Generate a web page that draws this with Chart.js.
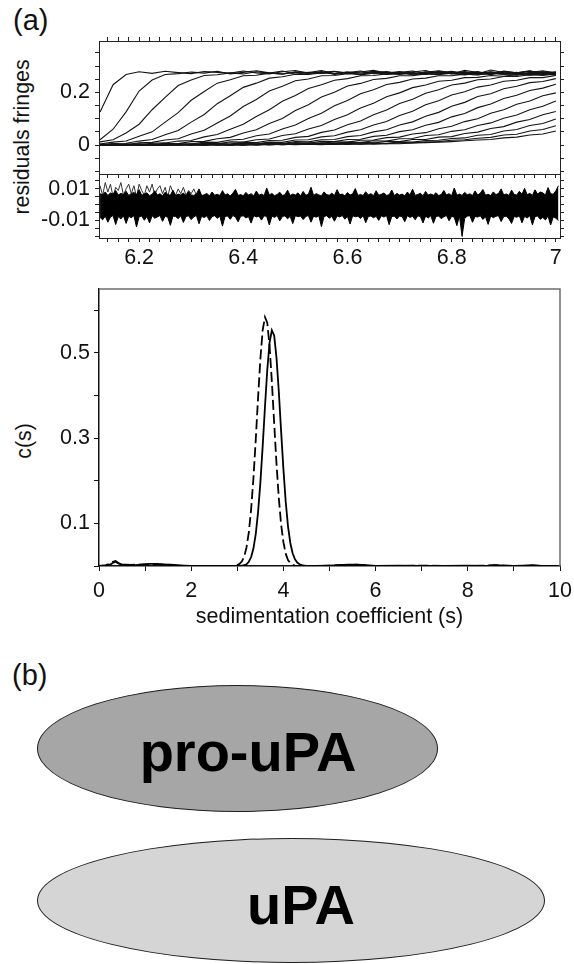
<!DOCTYPE html>
<html>
<head>
<meta charset="utf-8">
<script src="https://cdn.jsdelivr.net/npm/chart.js@4.4.1/dist/chart.umd.min.js"></script>
<style>
  body { margin: 0; background: #fff; width: 574px; height: 964px; position: relative; overflow: hidden;
         font-family: "Liberation Sans", Arial, sans-serif; color: #111; }
  canvas { position: absolute; left: 0; }
  .txt { position: absolute; white-space: nowrap; line-height: 1; }
  .rot { position: absolute; white-space: nowrap; line-height: 1; font-size: 21.3px;
         transform: translate(-50%, -50%) rotate(-90deg); }
  .ell { position: absolute; border: 1.5px solid #1e1e1e; border-radius: 50%; box-sizing: border-box; }
  .big { position: absolute; white-space: nowrap; line-height: 1; font-weight: bold; font-size: 56px;
         transform: translateX(-50%); color: #000; }
</style>
</head>
<body>
<div class="txt" style="left:13px; top:6px; font-size:29px;">(a)</div>
<div class="rot" style="left:23px; top:137px;">residuals fringes</div>
<div class="rot" style="left:25px; top:441px;">c(s)</div>

<canvas id="fringes" width="574" height="180" style="top:0px"></canvas>
<canvas id="resid" width="574" height="100" style="top:170px"></canvas>
<canvas id="cs" width="574" height="350" style="top:280px"></canvas>

<div class="txt" style="left:12px; top:661px; font-size:29px;">(b)</div>
<div class="ell" style="left:37px; top:685px; width:401px; height:127px; background:#a6a6a6;"></div>
<div class="big" style="left:248px; top:724px;">pro-uPA</div>
<div class="ell" style="left:37px; top:838px; width:508px; height:125px; background:#d5d5d5;"></div>
<div class="big" style="left:301px; top:877px;">uPA</div>

<script>
// ---- fringe scans (radius in cm, fringes) ----
const fringeX = [6.125, 6.15, 6.175, 6.2, 6.225, 6.25, 6.275, 6.3, 6.325, 6.35, 6.375, 6.4, 6.425, 6.45, 6.475, 6.5, 6.525, 6.55, 6.575, 6.6, 6.625, 6.65, 6.675, 6.7, 6.725, 6.75, 6.775, 6.8, 6.825, 6.85, 6.875, 6.9, 6.925, 6.95, 6.975, 7.0];

const scan01 = [0.125, 0.229, 0.268, 0.278, 0.272, 0.280, 0.275, 0.271, 0.279, 0.276, 0.273, 0.281, 0.274, 0.270, 0.278, 0.283, 0.272, 0.276, 0.280, 0.271, 0.277, 0.284, 0.273, 0.279, 0.270, 0.276, 0.282, 0.274, 0.279, 0.271, 0.285, 0.275, 0.272, 0.280, 0.277, 0.274];
const scan02 = [0.020, 0.060, 0.126, 0.205, 0.247, 0.268, 0.271, 0.277, 0.273, 0.280, 0.270, 0.276, 0.282, 0.274, 0.269, 0.278, 0.275, 0.283, 0.271, 0.277, 0.273, 0.280, 0.268, 0.276, 0.281, 0.272, 0.278, 0.270, 0.284, 0.275, 0.271, 0.279, 0.274, 0.282, 0.270, 0.277];
const scan03 = [0.012, 0.020, 0.046, 0.079, 0.134, 0.181, 0.226, 0.247, 0.264, 0.267, 0.274, 0.270, 0.278, 0.273, 0.281, 0.269, 0.276, 0.272, 0.279, 0.274, 0.268, 0.280, 0.275, 0.271, 0.277, 0.283, 0.270, 0.276, 0.273, 0.279, 0.268, 0.281, 0.274, 0.270, 0.278, 0.275];
const scan04 = [0.004, 0.011, 0.015, 0.033, 0.050, 0.087, 0.123, 0.170, 0.203, 0.235, 0.248, 0.263, 0.265, 0.273, 0.270, 0.276, 0.272, 0.279, 0.268, 0.275, 0.281, 0.271, 0.277, 0.273, 0.269, 0.278, 0.274, 0.280, 0.270, 0.276, 0.272, 0.279, 0.267, 0.275, 0.282, 0.273];
const scan05 = [0.002, 0.006, 0.007, 0.015, 0.021, 0.039, 0.055, 0.087, 0.116, 0.157, 0.187, 0.219, 0.235, 0.254, 0.259, 0.269, 0.268, 0.274, 0.271, 0.277, 0.266, 0.273, 0.279, 0.270, 0.275, 0.268, 0.280, 0.272, 0.276, 0.269, 0.278, 0.271, 0.274, 0.281, 0.267, 0.275];
const scan06 = [-0.002, 0.004, 0.002, 0.008, 0.010, 0.019, 0.024, 0.042, 0.056, 0.084, 0.110, 0.146, 0.173, 0.205, 0.223, 0.244, 0.251, 0.263, 0.264, 0.271, 0.269, 0.275, 0.270, 0.277, 0.266, 0.273, 0.268, 0.279, 0.271, 0.275, 0.267, 0.278, 0.272, 0.269, 0.276, 0.270];
const scan07 = [0.003, -0.001, 0.004, 0.002, 0.007, 0.008, 0.015, 0.017, 0.031, 0.040, 0.060, 0.079, 0.108, 0.134, 0.166, 0.188, 0.215, 0.229, 0.246, 0.252, 0.263, 0.264, 0.270, 0.268, 0.274, 0.269, 0.276, 0.271, 0.266, 0.273, 0.277, 0.270, 0.268, 0.275, 0.271, 0.278];
const scan08 = [-0.001, 0.003, 0.000, 0.004, 0.002, 0.007, 0.006, 0.013, 0.014, 0.024, 0.029, 0.046, 0.058, 0.082, 0.101, 0.131, 0.153, 0.182, 0.200, 0.224, 0.234, 0.249, 0.253, 0.263, 0.263, 0.270, 0.267, 0.273, 0.269, 0.266, 0.274, 0.270, 0.276, 0.268, 0.272, 0.267];
const scan09 = [0.002, -0.002, 0.003, 0.000, 0.004, 0.001, 0.006, 0.004, 0.011, 0.010, 0.019, 0.022, 0.035, 0.042, 0.061, 0.076, 0.101, 0.121, 0.149, 0.169, 0.195, 0.210, 0.230, 0.238, 0.251, 0.254, 0.263, 0.263, 0.269, 0.267, 0.272, 0.268, 0.265, 0.273, 0.270, 0.266];
const scan10 = [0.003, 0.000, 0.002, -0.001, 0.003, 0.001, 0.005, 0.002, 0.007, 0.005, 0.012, 0.011, 0.020, 0.023, 0.036, 0.043, 0.061, 0.074, 0.097, 0.115, 0.141, 0.159, 0.183, 0.198, 0.218, 0.228, 0.242, 0.246, 0.256, 0.257, 0.264, 0.261, 0.268, 0.265, 0.270, 0.266];
const scan11 = [-0.001, 0.002, 0.001, 0.003, -0.001, 0.003, 0.000, 0.004, 0.002, 0.007, 0.004, 0.010, 0.009, 0.017, 0.018, 0.029, 0.033, 0.048, 0.057, 0.077, 0.091, 0.115, 0.133, 0.158, 0.174, 0.197, 0.210, 0.228, 0.235, 0.248, 0.251, 0.260, 0.260, 0.267, 0.264, 0.270];
const scan12 = [0.002, -0.001, 0.003, 0.001, -0.001, 0.003, 0.000, 0.004, 0.001, 0.005, 0.003, 0.007, 0.005, 0.011, 0.010, 0.019, 0.020, 0.031, 0.035, 0.049, 0.058, 0.076, 0.089, 0.112, 0.128, 0.153, 0.168, 0.190, 0.202, 0.220, 0.228, 0.242, 0.246, 0.256, 0.256, 0.264];
const scan13 = [0.001, 0.003, -0.001, 0.002, 0.000, 0.003, -0.001, 0.003, 0.000, 0.004, 0.002, 0.006, 0.003, 0.008, 0.006, 0.013, 0.012, 0.020, 0.021, 0.032, 0.036, 0.050, 0.058, 0.076, 0.088, 0.109, 0.124, 0.147, 0.162, 0.184, 0.195, 0.214, 0.223, 0.237, 0.241, 0.252];
const scan14 = [-0.001, 0.002, 0.000, 0.003, -0.002, 0.002, 0.001, 0.003, -0.001, 0.003, 0.000, 0.004, 0.002, 0.006, 0.004, 0.009, 0.007, 0.014, 0.013, 0.021, 0.022, 0.033, 0.037, 0.051, 0.058, 0.075, 0.086, 0.107, 0.120, 0.142, 0.156, 0.177, 0.189, 0.207, 0.216, 0.231];
const scan15 = [0.002, 0.000, 0.003, -0.001, 0.002, 0.001, 0.004, 0.000, 0.002, -0.001, 0.003, 0.001, 0.004, 0.002, 0.006, 0.004, 0.008, 0.007, 0.012, 0.011, 0.018, 0.019, 0.028, 0.030, 0.042, 0.047, 0.062, 0.071, 0.089, 0.100, 0.121, 0.134, 0.155, 0.167, 0.187, 0.198];
const scan16 = [-0.001, 0.003, 0.001, -0.001, 0.002, 0.000, 0.003, 0.001, -0.001, 0.003, 0.000, 0.004, 0.001, 0.003, 0.002, 0.005, 0.003, 0.008, 0.006, 0.011, 0.009, 0.016, 0.015, 0.024, 0.025, 0.036, 0.039, 0.052, 0.058, 0.074, 0.084, 0.102, 0.114, 0.134, 0.147, 0.167];
const scan17 = [0.002, -0.001, 0.002, 0.000, 0.003, -0.001, 0.002, 0.001, 0.003, 0.000, 0.002, -0.001, 0.004, 0.001, 0.003, 0.002, 0.005, 0.003, 0.007, 0.005, 0.010, 0.008, 0.014, 0.013, 0.021, 0.021, 0.030, 0.032, 0.044, 0.049, 0.063, 0.070, 0.087, 0.097, 0.115, 0.127];
const scan18 = [0.000, 0.002, -0.001, 0.003, 0.001, -0.002, 0.002, 0.000, 0.003, 0.001, -0.001, 0.003, 0.000, 0.004, 0.001, 0.004, 0.002, 0.005, 0.003, 0.006, 0.004, 0.008, 0.006, 0.012, 0.011, 0.017, 0.018, 0.025, 0.027, 0.037, 0.040, 0.053, 0.059, 0.074, 0.082, 0.099];
const scan19 = [0.001, -0.001, 0.002, 0.000, 0.003, -0.001, 0.001, 0.002, -0.001, 0.003, 0.000, 0.002, 0.000, 0.003, 0.001, 0.003, 0.002, 0.004, 0.002, 0.005, 0.003, 0.006, 0.005, 0.009, 0.008, 0.012, 0.013, 0.018, 0.020, 0.026, 0.029, 0.038, 0.041, 0.053, 0.059, 0.073];
const scan20 = [-0.001, 0.002, 0.000, 0.003, -0.001, 0.002, 0.001, -0.001, 0.003, 0.000, 0.002, -0.001, 0.002, 0.000, 0.003, 0.001, 0.003, 0.001, 0.004, 0.002, 0.005, 0.003, 0.006, 0.005, 0.008, 0.009, 0.011, 0.013, 0.016, 0.019, 0.021, 0.027, 0.030, 0.038, 0.042, 0.053];

const fringeScans = [scan01, scan02, scan03, scan04, scan05, scan06, scan07, scan08, scan09, scan10,
                     scan11, scan12, scan13, scan14, scan15, scan16, scan17, scan18, scan19, scan20];

// ---- residuals: sampled every 0.005 cm from 6.125 ----
const residStart = 6.125;
const residStep = 0.005;
const residUpper = [
  0.0070, 0.0062, 0.0081, 0.0058, 0.0074, 0.0066, 0.0090, 0.0061, 0.0072, 0.0064,
  0.0085, 0.0059, 0.0070, 0.0078, 0.0063, 0.0095, 0.0060, 0.0068, 0.0075, 0.0057,
  0.0066, 0.0088, 0.0061, 0.0070, 0.0056, 0.0079, 0.0064, 0.0060, 0.0092, 0.0058,
  0.0067, 0.0062, 0.0074, 0.0055, 0.0083, 0.0061, 0.0059, 0.0068, 0.0100, 0.0057,
  0.0063, 0.0071, 0.0056, 0.0080, 0.0060, 0.0066, 0.0058, 0.0089, 0.0062, 0.0069,
  0.0055, 0.0073, 0.0097, 0.0059, 0.0064, 0.0057, 0.0078, 0.0061, 0.0070, 0.0056,
  0.0086, 0.0060, 0.0067, 0.0058, 0.0105, 0.0062, 0.0071, 0.0057, 0.0065, 0.0079,
  0.0059, 0.0063, 0.0092, 0.0058, 0.0068, 0.0061, 0.0075, 0.0056, 0.0084, 0.0060,
  0.0066, 0.0110, 0.0059, 0.0070, 0.0062, 0.0057, 0.0081, 0.0064, 0.0060, 0.0073,
  0.0058, 0.0095, 0.0063, 0.0067, 0.0056, 0.0077, 0.0061, 0.0069, 0.0102, 0.0059,
  0.0065, 0.0058, 0.0082, 0.0062, 0.0070, 0.0057, 0.0088, 0.0060, 0.0066, 0.0074,
  0.0059, 0.0063, 0.0093, 0.0058, 0.0071, 0.0061, 0.0067, 0.0056, 0.0080, 0.0062,
  0.0098, 0.0059, 0.0065, 0.0072, 0.0057, 0.0084, 0.0061, 0.0068, 0.0060, 0.0076,
  0.0058, 0.0064, 0.0090, 0.0062, 0.0070, 0.0057, 0.0106, 0.0060, 0.0067, 0.0059,
  0.0078, 0.0063, 0.0069, 0.0058, 0.0087, 0.0061, 0.0073, 0.0096, 0.0060, 0.0066,
  0.0058, 0.0081, 0.0064, 0.0071, 0.0100, 0.0062, 0.0068, 0.0059, 0.0092, 0.0065,
  0.0061, 0.0085, 0.0066, 0.0103, 0.0063, 0.0072, 0.0059, 0.0094, 0.0067, 0.0080,
  0.0075, 0.0061, 0.0108, 0.0070, 0.0066, 0.0088, 0.0120];
const residLower = [
  -0.0080, -0.0095, -0.0072, -0.0110, -0.0078, -0.0068, -0.0125, -0.0075, -0.0090, -0.0070,
  -0.0118, -0.0073, -0.0082, -0.0069, -0.0140, -0.0076, -0.0071, -0.0098, -0.0074, -0.0115,
  -0.0070, -0.0085, -0.0077, -0.0068, -0.0105, -0.0072, -0.0079, -0.0130, -0.0071, -0.0075,
  -0.0088, -0.0069, -0.0112, -0.0074, -0.0070, -0.0094, -0.0076, -0.0068, -0.0120, -0.0073,
  -0.0081, -0.0070, -0.0100, -0.0075, -0.0069, -0.0086, -0.0072, -0.0135, -0.0074, -0.0071,
  -0.0092, -0.0068, -0.0078, -0.0108, -0.0073, -0.0070, -0.0083, -0.0075, -0.0116, -0.0069,
  -0.0077, -0.0072, -0.0097, -0.0070, -0.0074, -0.0128, -0.0071, -0.0080, -0.0068, -0.0102,
  -0.0075, -0.0070, -0.0089, -0.0073, -0.0119, -0.0069, -0.0076, -0.0071, -0.0094, -0.0074,
  -0.0068, -0.0110, -0.0072, -0.0079, -0.0070, -0.0138, -0.0075, -0.0069, -0.0085, -0.0073,
  -0.0104, -0.0071, -0.0077, -0.0068, -0.0091, -0.0074, -0.0122, -0.0070, -0.0076, -0.0072,
  -0.0087, -0.0069, -0.0113, -0.0075, -0.0071, -0.0082, -0.0073, -0.0099, -0.0070, -0.0078,
  -0.0068, -0.0126, -0.0074, -0.0072, -0.0090, -0.0071, -0.0076, -0.0107, -0.0069, -0.0080,
  -0.0073, -0.0095, -0.0070, -0.0075, -0.0115, -0.0072, -0.0084, -0.0069, -0.0117, -0.0074,
  -0.0071, -0.0088, -0.0076, -0.0068, -0.0101, -0.0073, -0.0079, -0.0132, -0.0070, -0.0200,
  -0.0086, -0.0072, -0.0069, -0.0111, -0.0074, -0.0078, -0.0070, -0.0093, -0.0076, -0.0124,
  -0.0071, -0.0082, -0.0073, -0.0069, -0.0106, -0.0075, -0.0072, -0.0089, -0.0118, -0.0074,
  -0.0079, -0.0070, -0.0114, -0.0073, -0.0084, -0.0069, -0.0127, -0.0075, -0.0071, -0.0092,
  -0.0080, -0.0096, -0.0071, -0.0128, -0.0077, -0.0085, -0.0100];
const residEarly = [0.012, 0.006, 0.014, 0.008, 0.013, 0.005, 0.011, 0.009, 0.014, 0.006,
  0.010, 0.013, 0.007, 0.012, 0.005, 0.013, 0.009, 0.006, 0.012, 0.008,
  0.013, 0.006, 0.010, 0.012, 0.007, 0.011, 0.005, 0.012, 0.008, 0.006,
  0.010, 0.007, 0.011, 0.006, 0.009, 0.007, 0.010, 0.006, 0.008, 0.006];

// ---- c(s) distribution ----
const sGrid = [0, 0.15, 0.25, 0.3, 0.36, 0.42, 0.5, 0.6, 0.8, 0.95, 1.1, 1.25, 1.4, 1.55, 1.7, 1.85, 2.0, 2.4, 2.8, 2.9,
  2.95, 3.0, 3.05, 3.1, 3.15, 3.2, 3.25, 3.3, 3.35, 3.4, 3.45, 3.5, 3.55, 3.6, 3.65, 3.7, 3.75, 3.8, 3.85, 3.9,
  3.95, 4.0, 4.05, 4.1, 4.15, 4.2, 4.25, 4.3, 4.35, 4.4, 4.45, 4.5, 4.7, 5.0, 5.2, 5.4, 5.6, 5.8, 6.0, 6.5,
  7.0, 7.5, 8.0, 8.4, 8.6, 8.8, 9.0, 9.2, 9.4, 9.6, 10.0];
const csUPA = [0.000, 0.001, 0.004, 0.007, 0.010, 0.006, 0.003, 0.003, 0.002, 0.004, 0.005, 0.005, 0.004, 0.003, 0.002, 0.001, 0.000, 0.000, 0.000, 0.000,
  0.000, 0.000, 0.000, 0.001, 0.002, 0.004, 0.010, 0.021, 0.041, 0.075, 0.126, 0.195, 0.280, 0.373, 0.460, 0.524, 0.553, 0.541, 0.489, 0.410,
  0.317, 0.228, 0.151, 0.093, 0.054, 0.030, 0.016, 0.008, 0.004, 0.002, 0.001, 0.000, 0.000, 0.001, 0.002, 0.003, 0.003, 0.002, 0.000, 0.001,
  0.000, 0.000, 0.001, 0.000, 0.002, 0.001, 0.000, 0.001, 0.002, 0.000, 0.000];
const csProUPA = [0.000, 0.002, 0.006, 0.010, 0.012, 0.007, 0.003, 0.002, 0.003, 0.003, 0.004, 0.004, 0.003, 0.002, 0.001, 0.000, 0.000, 0.000, 0.000, 0.000,
  0.001, 0.002, 0.005, 0.011, 0.022, 0.044, 0.079, 0.133, 0.206, 0.296, 0.394, 0.485, 0.553, 0.584, 0.571, 0.516, 0.432, 0.335, 0.240, 0.160,
  0.098, 0.056, 0.029, 0.014, 0.007, 0.003, 0.001, 0.000, 0.000, 0.000, 0.000, 0.000, 0.000, 0.001, 0.002, 0.002, 0.003, 0.001, 0.000, 0.000,
  0.001, 0.000, 0.000, 0.001, 0.002, 0.001, 0.000, 0.000, 0.001, 0.000, 0.000];

// ---- ticks ----
const fringeXTicks = [6.14, 6.16, 6.18, 6.2, 6.22, 6.24, 6.26, 6.28, 6.3, 6.32, 6.34, 6.36, 6.38, 6.4, 6.42, 6.44, 6.46, 6.48, 6.5, 6.52, 6.54, 6.56, 6.58, 6.6, 6.62, 6.64, 6.66, 6.68, 6.7, 6.72, 6.74, 6.76, 6.78, 6.8, 6.82, 6.84, 6.86, 6.88, 6.9, 6.92, 6.94, 6.96, 6.98, 7.0];
const fringeXLabelAt = [6.2, 6.4, 6.6, 6.8, 7.0];
const fringeXLabels = ['6.2', '6.4', '6.6', '6.8', '7'];
const fringeYTicks = [-0.1, -0.05, 0, 0.05, 0.1, 0.15, 0.2, 0.25, 0.3, 0.35];
const fringeYLabelAt = [0, 0.2];
const fringeYLabels = ['0', '0.2'];
const residYTicks = [-0.02, -0.015, -0.01, -0.005, 0, 0.005, 0.01, 0.015];
const residYLabelAt = [0.01, -0.01];
const residYLabels = ['0.01', '-0.01'];
const sTicks = [0, 1, 2, 3, 4, 5, 6, 7, 8, 9, 10];
const sLabelAt = [0, 2, 4, 6, 8, 10];
const sLabels = ['0', '2', '4', '6', '8', '10'];
const cTicks = [0, 0.1, 0.2, 0.3, 0.4, 0.5, 0.6];
const cLabelAt = [0.1, 0.3, 0.5];
const cLabels = ['0.1', '0.3', '0.5'];

Chart.defaults.font.family = "'Liberation Sans', Arial, sans-serif";
Chart.defaults.font.size = 21.5;
Chart.defaults.color = '#111';

function fixedTicks(list) {
  return scale => { scale.ticks = list.map(v => ({ value: v })); };
}
function labeler(at, text) {
  return v => {
    const i = at.findIndex(t => Math.abs(t - v) < 1e-9);
    return i < 0 ? '' : text[i];
  };
}
// force an axis to an exact size and stop label overhang from shrinking the plot
function sized(dim, px) {
  return s => {
    s[dim] = px;
    s.paddingTop = 0; s.paddingBottom = 0; s.paddingLeft = 0; s.paddingRight = 0;
  };
}
function axis(extra) {
  const base = {
    type: 'linear',
    grid: { drawOnChartArea: false, drawTicks: true, tickLength: 4, color: '#222' },
    border: { display: true, color: '#222', width: 1 },
    ticks: { display: false, autoSkip: false, maxRotation: 0 }
  };
  return Object.assign(base, extra);
}
const noInteract = { legend: { display: false }, tooltip: { enabled: false } };

// (a) top: fringe scans
new Chart(document.getElementById('fringes'), {
  type: 'line',
  data: {
    datasets: fringeScans.map(scan => ({
      data: scan.map((v, i) => ({ x: fringeX[i], y: v })),
      borderColor: '#141414', borderWidth: 1.1, pointRadius: 0, tension: 0, fill: false
    }))
  },
  options: {
    responsive: false, animation: false, events: [],
    layout: { padding: 0 },
    plugins: noInteract,
    scales: {
      x: axis({ position: 'bottom', min: 6.123, max: 7.008, afterBuildTicks: fixedTicks(fringeXTicks), afterFit: sized('height', 6) }),
      xTop: axis({ axis: 'x', position: 'top', min: 6.123, max: 7.008, afterBuildTicks: fixedTicks(fringeXTicks), afterFit: sized('height', 41) }),
      y: axis({ position: 'left', min: -0.11, max: 0.395, afterBuildTicks: fixedTicks(fringeYTicks), afterFit: sized('width', 99),
        ticks: { display: true, autoSkip: false, padding: 5, callback: labeler(fringeYLabelAt, fringeYLabels) } }),
      yRight: axis({ axis: 'y', position: 'right', min: -0.11, max: 0.395, afterBuildTicks: fixedTicks(fringeYTicks), afterFit: sized('width', 14) })
    }
  }
});

// (a) middle: residuals
const residPts = arr => arr.map((v, i) => ({ x: residStart + i * residStep, y: v }));
new Chart(document.getElementById('resid'), {
  type: 'line',
  data: {
    datasets: [
      { data: residPts(residUpper), borderColor: '#000', borderWidth: 1, pointRadius: 0, tension: 0, fill: false },
      { data: residPts(residLower), borderColor: '#000', borderWidth: 1, pointRadius: 0, tension: 0, fill: '-1', backgroundColor: '#000' },
      { data: residPts(residEarly), borderColor: '#333', borderWidth: 1, pointRadius: 0, tension: 0, fill: false }
    ]
  },
  options: {
    responsive: false, animation: false, events: [],
    layout: { padding: { top: 4 } },
    plugins: noInteract,
    scales: {
      x: axis({ position: 'bottom', min: 6.123, max: 7.008, afterBuildTicks: fixedTicks(fringeXTicks), afterFit: sized('height', 32),
        ticks: { display: true, autoSkip: false, maxRotation: 0, padding: 3, callback: labeler(fringeXLabelAt, fringeXLabels) } }),
      y: axis({ position: 'left', min: -0.021, max: 0.0194, afterBuildTicks: fixedTicks(residYTicks), afterFit: sized('width', 99),
        ticks: { display: true, autoSkip: false, padding: 5, callback: labeler(residYLabelAt, residYLabels) } }),
      yRight: axis({ axis: 'y', position: 'right', min: -0.021, max: 0.0194, afterBuildTicks: fixedTicks(residYTicks), afterFit: sized('width', 14) })
    }
  }
});

// (a) bottom: c(s)
const frameTopRight = {
  id: 'frameTopRight',
  afterDraw(chart) {
    const { ctx, chartArea: a } = chart;
    ctx.save();
    ctx.strokeStyle = '#6e6e6e';
    ctx.lineWidth = 1.5;
    ctx.beginPath();
    ctx.moveTo(a.left, a.top);
    ctx.lineTo(a.right, a.top);
    ctx.lineTo(a.right, a.bottom);
    ctx.stroke();
    ctx.restore();
  }
};
new Chart(document.getElementById('cs'), {
  type: 'line',
  data: {
    datasets: [
      { label: 'uPA', data: csUPA.map((v, i) => ({ x: sGrid[i], y: v })), borderColor: '#000', borderWidth: 1.8, pointRadius: 0, tension: 0, fill: false },
      { label: 'pro-uPA', data: csProUPA.map((v, i) => ({ x: sGrid[i], y: v })), borderColor: '#000', borderWidth: 1.8, borderDash: [10, 4], pointRadius: 0, tension: 0, fill: false }
    ]
  },
  options: {
    responsive: false, animation: false, events: [],
    layout: { padding: { top: 9, right: 14 } },
    plugins: noInteract,
    scales: {
      x: axis({ position: 'bottom', min: 0, max: 10, afterBuildTicks: fixedTicks(sTicks), afterFit: sized('height', 64),
        grid: { drawOnChartArea: false, tickLength: 5, color: '#111' },
        border: { display: true, color: '#111', width: 1.5 },
        ticks: { display: true, autoSkip: false, maxRotation: 0, padding: 7, callback: labeler(sLabelAt, sLabels) },
        title: { display: true, text: 'sedimentation coefficient (s)', font: { size: 21.5 }, padding: { top: 0, bottom: 0 } } }),
      y: axis({ position: 'left', min: 0, max: 0.65, afterBuildTicks: fixedTicks(cTicks), afterFit: sized('width', 99),
        grid: { drawOnChartArea: false, tickLength: 5, color: '#111' },
        border: { display: true, color: '#111', width: 1.5 },
        ticks: { display: true, autoSkip: false, padding: 4, callback: labeler(cLabelAt, cLabels) } })
    }
  },
  plugins: [frameTopRight]
});
</script>
</body>
</html>
